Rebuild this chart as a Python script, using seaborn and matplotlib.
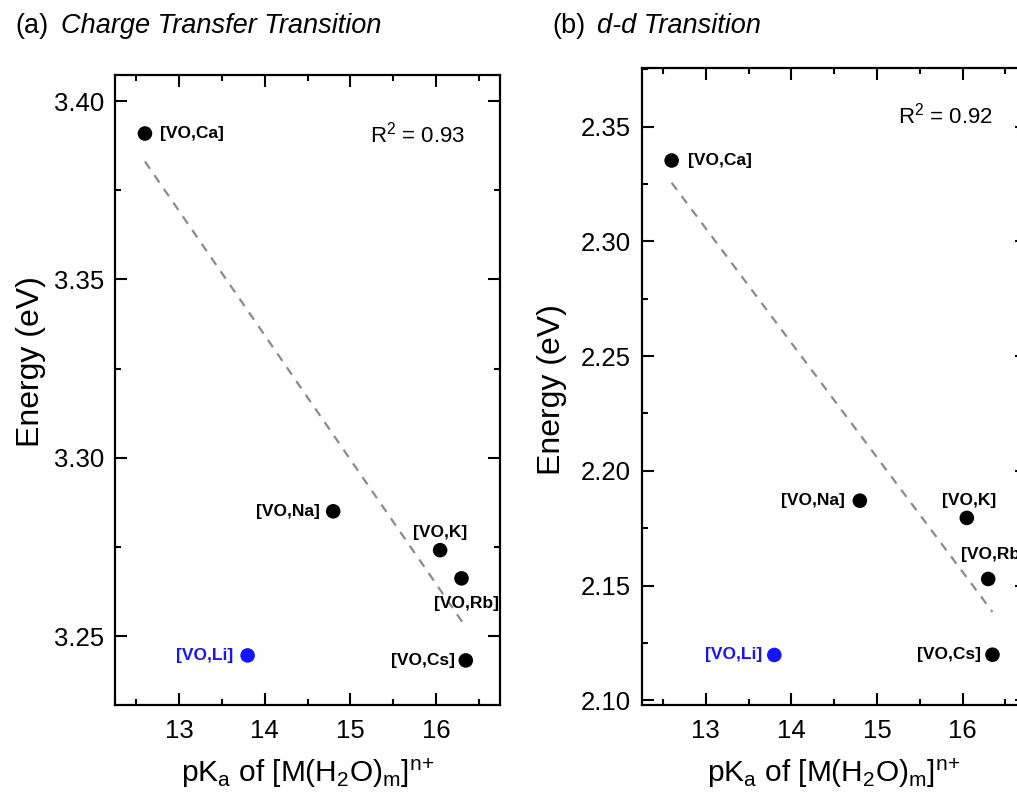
import numpy as np
import pandas as pd
import matplotlib
matplotlib.use("Agg")
import matplotlib.pyplot as plt
import seaborn as sns
from matplotlib.ticker import MultipleLocator

# ---------------- data ----------------
ions = ["Ca", "Li", "Na", "K", "Rb", "Cs"]
pka = [12.6, 13.8, 14.8, 16.05, 16.3, 16.35]
ct_energy = [3.3909, 3.2446, 3.2850, 3.2741, 3.2662, 3.2432]
dd_energy = [2.3352, 2.1198, 2.1870, 2.1795, 2.1529, 2.1199]
in_fit = [True, False, True, True, True, True]
point_labels = ["[VO,Ca]", "[VO,Li]", "[VO,Na]", "[VO,K]", "[VO,Rb]", "[VO,Cs]"]
r2_labels = ["R$^2$ = 0.93", "R$^2$ = 0.92"]
panel_tags = ["(a)", "(b)"]
panel_titles = ["Charge Transfer Transition", "d-d Transition"]
x_ticks = [13, 14, 15, 16]
ct_yticks = [3.25, 3.30, 3.35, 3.40]
dd_yticks = [2.10, 2.15, 2.20, 2.25, 2.30, 2.35]

# ---------------- style ----------------
sns.set_theme(style="ticks")
plt.rcParams["font.family"] = ["Liberation Sans", "DejaVu Sans"]
plt.rcParams["mathtext.fontset"] = "custom"
plt.rcParams["mathtext.rm"] = "Liberation Sans"
plt.rcParams["mathtext.it"] = "Liberation Sans:italic"
plt.rcParams["mathtext.default"] = "regular"
for k in ["text.color", "axes.labelcolor", "xtick.color", "ytick.color", "axes.edgecolor"]:
    plt.rcParams[k] = "black"

fig = plt.figure(figsize=(10.17, 8), dpi=100)
W, H = 1017.0, 800.0
axA = fig.add_axes([115 / W, 95 / H, 385 / W, 630 / H])
axB = fig.add_axes([641.7 / W, 95 / H, 385 / W, 637 / H])

df = pd.DataFrame({"ion": ions, "pka": pka, "ct": ct_energy, "dd": dd_energy,
                   "fit": in_fit, "label": point_labels})
df["grp"] = np.where(df["fit"], "main", "li")
palette = {"main": "black", "li": "#1414ff"}

# label offsets in pixels (dx, dy, ha)
offsA = {"Ca": (15, 0, "left"), "Li": (-14, 0, "right"), "Na": (-13, 0, "right"),
         "K": (0, 18, "center"), "Rb": (5, -25, "center"), "Cs": (-11, 0, "right")}
offsB = {"Ca": (16, 0, "left"), "Li": (-12, 0, "right"), "Na": (-15, 0, "right"),
         "K": (2, 17, "center"), "Rb": (-27, 24, "left"), "Cs": (-11, 0, "right")}

def draw(ax, col, offs, yticks, ylim, r2, r2pos):
    sub = df[df["fit"]]
    coef = np.polyfit(sub["pka"], sub[col], 1)
    xs = np.linspace(sub["pka"].min(), sub["pka"].max(), 50)
    sns.lineplot(x=xs, y=np.polyval(coef, xs), ax=ax, color="#8a8a8a",
                 lw=1.6, linestyle=(0, (4, 3.5)), zorder=1)
    sns.scatterplot(data=df, x="pka", y=col, hue="grp", palette=palette, ax=ax,
                    s=110, edgecolor="none", legend=False, zorder=3)
    for _, r in df.iterrows():
        dx, dy, ha = offs[r["ion"]]
        ax.annotate(r["label"], (r["pka"], r[col]), xytext=(dx * 0.72, dy * 0.72),
                    textcoords="offset points", ha=ha, va="center",
                    fontsize=12.5, fontweight="bold",
                    color=palette[r["grp"]], annotation_clip=False)
    ax.text(r2pos[0], r2pos[1], r2, transform=ax.transAxes, ha="center",
            va="center", fontsize=16)
    ax.set_xlim(12.25, 16.75)
    ax.set_ylim(*ylim)
    ax.set_xticks(x_ticks)
    ax.set_yticks(yticks)
    ax.xaxis.set_minor_locator(MultipleLocator(0.5))
    ax.yaxis.set_minor_locator(MultipleLocator(0.025))
    ax.set_yticklabels([f"{t:.2f}" for t in yticks])
    ax.tick_params(which="both", direction="in", top=True, right=True,
                   width=1.5, labelsize=18.5, color="black", labelcolor="black")
    ax.tick_params(which="major", length=8.5)
    ax.tick_params(which="minor", length=4.5)
    ax.tick_params(axis="y", pad=8)
    ax.tick_params(axis="x", pad=10)
    for s in ax.spines.values():
        s.set_linewidth(1.6)
        s.set_color("black")
    ax.set_xlabel("pK$_{a}$ of [M(H$_{2}$O)$_{m}$]$^{n\\!+}$", fontsize=21.5)
    ax.set_ylabel("Energy (eV)", fontsize=23)

draw(axA, "ct", offsA, ct_yticks, (3.2307, 3.4073), r2_labels[0], (0.787, 0.906))
draw(axB, "dd", offsB, dd_yticks, (2.098, 2.3755), r2_labels[1], (0.788, 0.926))
axA.xaxis.set_label_coords(0.5, -0.082)
axB.xaxis.set_label_coords(0.5, -0.081)
axA.yaxis.set_label_coords(-0.18, 0.545)
axB.yaxis.set_label_coords(-0.195, 0.495)

# panel titles
fig.text(15 / W, 1 - 33 / H, panel_tags[0], fontsize=19.5, va="baseline")
fig.text(61 / W, 1 - 33 / H, panel_titles[0], fontsize=19.5, va="baseline", style="italic")
fig.text(552 / W, 1 - 33 / H, panel_tags[1], fontsize=19.5, va="baseline")
fig.text(597 / W, 1 - 33 / H, panel_titles[1], fontsize=19.5, va="baseline", style="italic")

fig.savefig("out.png", dpi=100)
